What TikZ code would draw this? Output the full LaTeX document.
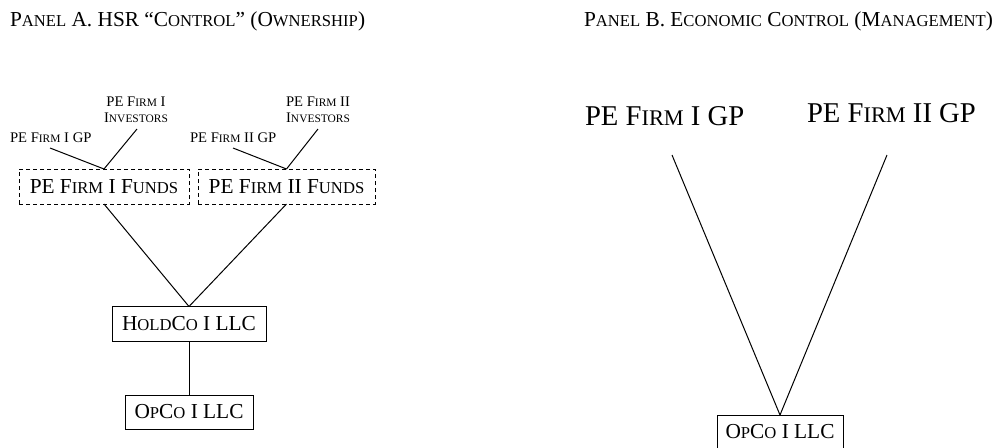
\documentclass[tikz,border=0pt]{standalone}
\usepackage{fontspec}
\setmainfont{Liberation Serif}
\usepackage{graphicx}
% small capitals drawn as reduced upper-case letters
\newcommand\fsc[1]{\scalebox{0.78}{#1}}
\begin{document}
\begin{tikzpicture}[x=0.75pt,y=-0.75pt,
  every node/.style={inner sep=0pt,outer sep=0pt},
  title/.style={font=\fontsize{16}{19}\selectfont},
  small/.style={font=\fontsize{11}{12}\selectfont},
  large/.style={anchor=base west,font=\fontsize{21.5}{24}\selectfont},
  entity/.style={draw,line width=0.75pt,font=\fontsize{16}{19}\selectfont,align=center},
  fundbox/.style={entity,dash pattern=on 3pt off 2.25pt},
  link/.style={line width=0.75pt}]
\useasboundingbox (0,0) rectangle (996,447);
\clip (0,0) rectangle (996,447);

% headings
\node[title,anchor=base west] (ta) at (10,26) {P\fsc{ANEL} A. HSR “C\fsc{ONTROL}” (O\fsc{WNERSHIP})};
\node[title,anchor=base east] (tb) at (993,26) {P\fsc{ANEL} B. E\fsc{CONOMIC} C\fsc{ONTROL} (M\fsc{ANAGEMENT})};

% Panel A: ownership chain
\node[small,anchor=base west] (gp1) at (10,142) {PE F\fsc{IRM} I GP};
\node[small,align=center,anchor=south] (inv1) at (136,123) {PE F\fsc{IRM} I\\I\fsc{NVESTORS}};
\node[small,anchor=base west] (gp2) at (190,142) {PE F\fsc{IRM} II GP};
\node[small,align=center,anchor=south] (inv2) at (318,123) {PE F\fsc{IRM} II\\I\fsc{NVESTORS}};

\node[fundbox,minimum width=127.5pt,minimum height=26.25pt] (f1) at (104,186.5) {PE F\fsc{IRM} I F\fsc{UNDS}};
\node[fundbox,minimum width=132.75pt,minimum height=26.25pt] (f2) at (286.5,186.5) {PE F\fsc{IRM} II F\fsc{UNDS}};

\node[entity,minimum width=115.5pt,minimum height=26.25pt] (hold) at (189,324) {H\fsc{OLD}C\fsc{O} I LLC};
\node[entity,minimum width=96pt,minimum height=25.5pt] (opa) at (189,412) {O\fsc{P}C\fsc{O} I LLC};

\coordinate (gp1end) at (50,148);
\coordinate (inv1end) at (137,129);
\coordinate (gp2end) at (233,148);
\coordinate (inv2end) at (318,129);

\draw[link] (gp1end) -- (f1.north);
\draw[link] (inv1end) -- (f1.north);
\draw[link] (gp2end) -- (f2.north);
\draw[link] (inv2end) -- (f2.north);
\draw[link] (f1.south) -- (hold.north);
\draw[link] (f2.south) -- (hold.north);
\draw[link] (hold.south) -- (opa.north);

% Panel B: management
\node[large] (bgp1) at (585,125) {PE F\fsc{IRM} I GP};
\node[large] (bgp2) at (807,122) {PE F\fsc{IRM} II GP};
\node[entity,minimum width=94.5pt,minimum height=25.5pt] (opb) at (780,432) {O\fsc{P}C\fsc{O} I LLC};
\coordinate (b1end) at (672,155);
\coordinate (b2end) at (887,155);
\draw[link] (b1end) -- (opb.north);
\draw[link] (b2end) -- (opb.north);
\end{tikzpicture}
\end{document}
